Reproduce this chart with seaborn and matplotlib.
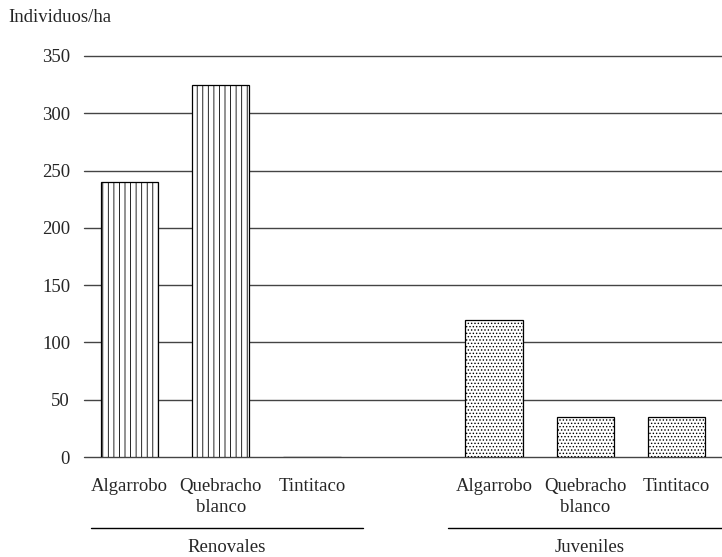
import numpy as np
import pandas as pd
import matplotlib
matplotlib.use("Agg")
import matplotlib.pyplot as plt
import matplotlib.transforms as mtransforms
import seaborn as sns

especies = ['Algarrobo', 'Quebracho\nblanco', 'Tintitaco']
grupos = ['Renovales', 'Juveniles']
renovales = [240, 325, 0]
juveniles = [120, 35, 35]
y_ticks = [0, 50, 100, 150, 200, 250, 300, 350]

sns.set_style('white')
plt.rcParams['font.family'] = ['Liberation Serif', 'DejaVu Serif']
plt.rcParams['hatch.linewidth'] = 0.6

rows = []
for g, vals in zip(grupos, [renovales, juveniles]):
    for e, v in zip(especies, vals):
        rows.append({'slot': g + '-' + e, 'especie': e, 'grupo': g, 'valor': v})
df = pd.DataFrame(rows)
order = [r['slot'] for r in rows[:3]] + ['_gap'] + [r['slot'] for r in rows[3:]]

fig = plt.figure(figsize=(7.22, 5.57), dpi=100)
ax = fig.add_axes([84 / 722, 100 / 557, 638 / 722, 401 / 557])
sns.barplot(data=df, x='slot', y='valor', hue='grupo', order=order,
            palette={'Renovales': 'white', 'Juveniles': 'white'},
            edgecolor='black', linewidth=0.9, width=0.63, dodge=False,
            legend=False, ax=ax)

hatches = {'Renovales': '|||', 'Juveniles': '.....'}
for cont, g in zip(ax.containers, grupos):
    for p in cont:
        p.set_hatch(hatches[g])
        p.set_zorder(3)

ax.set_ylim(0, 350)
ax.set_xlim(-0.5, 6.5)
ax.set_yticks(y_ticks)
ax.set_xticks([0, 1, 2, 4, 5, 6])
ax.set_xticklabels(especies + especies, fontsize=13.5, linespacing=1.35)
ax.tick_params(axis='y', labelsize=13.5, length=0, pad=10)
ax.tick_params(axis='x', length=0, pad=15)
ax.set_xlabel('')
ax.set_ylabel('')
for s in ax.spines.values():
    s.set_visible(False)
ax.yaxis.grid(True, color='#444444', linewidth=1.0)
for gl in ax.get_ygridlines():
    gl.set_clip_on(False)
ax.set_axisbelow(True)

trans = mtransforms.blended_transform_factory(ax.transData, ax.transAxes)
ax.plot([-0.42, 2.56], [-0.177, -0.177], color='black', lw=1, transform=trans, clip_on=False)
ax.plot([3.49, 6.5], [-0.177, -0.177], color='black', lw=1, transform=trans, clip_on=False)
ax.text(1.07, -0.226, 'Renovales', transform=trans, ha='center', va='center', fontsize=13.5)
ax.text(5.05, -0.226, 'Juveniles', transform=trans, ha='center', va='center', fontsize=13.5)

fig.text(8 / 722, 1 - 18 / 557, 'Individuos/ha', ha='left', va='center', fontsize=13.5)

fig.savefig('out.png', dpi=100)
